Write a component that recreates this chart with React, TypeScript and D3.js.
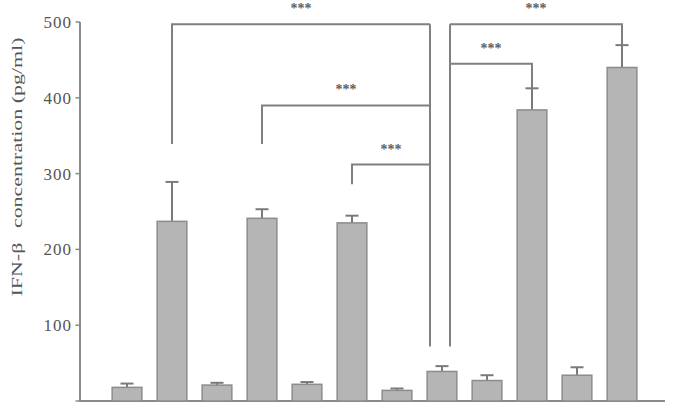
import React from 'react';
import * as d3 from 'd3';

const categories = ['G1', 'G2', 'G3', 'G4', 'G5', 'G6', 'G7', 'G8', 'G9', 'G10', 'G11', 'G12'];
const values = [18, 237, 21, 241, 22, 235, 14, 39, 27, 384, 34, 440];
const errors = [5, 52, 3, 12, 3, 9.5, 2.5, 7, 7, 28.5, 10.5, 29.5];
const yTicks = [0, 100, 200, 300, 400, 500];
const leftBrackets = [
  { from: 1, top: 497, legBottom: 339 },
  { from: 3, top: 390, legBottom: 339 },
  { from: 5, top: 312, legBottom: 286 },
];
const rightBrackets = [
  { to: 11, top: 497, legBottom: 440 },
  { to: 9, top: 445, legBottom: 413 },
];
const hubIndex = 7;
const hubBottom = 72;
const starLabel = '***';

const W = 675;
const H = 403;

export default function App() {
  const x = d3.scaleBand<string>().domain(categories).range([104.5, 644.5]).paddingInner(0.34).paddingOuter(0.17);
  const y = d3.scaleLinear().domain([0, 500]).range([401, 22]);
  const bw = x.bandwidth();
  const cx = (i: number) => (x(categories[i]) as number) + bw / 2;
  const hubL = cx(hubIndex) - 12;
  const hubR = cx(hubIndex) + 8;
  const lineColor = '#808080';
  const textColor = '#555';
  const font = '"Liberation Serif", "Times New Roman", serif';

  return (
    <svg width={W} height={H} style={{ position: 'absolute', left: 0, top: 0, background: '#fff' }}>
      <line x1={80} x2={80} y1={y(500)} y2={y(0) + 1} stroke="#8a8a8a" strokeWidth={2} />
      <line x1={79} x2={665} y1={y(0)} y2={y(0)} stroke="#8a8a8a" strokeWidth={2} />
      {yTicks.map((t) => (
        <g key={t}>
          <line x1={75.5} x2={80} y1={y(t)} y2={y(t)} stroke="#8a8a8a" strokeWidth={1.5} />
          <text
            x={72}
            y={t === 0 ? y(t) + 13 : y(t) + 6}
            textAnchor="end"
            fontFamily={font}
            fontSize={17}
            fill={textColor}
            letterSpacing={1}
          >
            {t}
          </text>
        </g>
      ))}
      <text
        transform={`translate(22,167) rotate(-90)`}
        textAnchor="middle"
        fontFamily={font}
        fontSize={15}
        fill={textColor}
        textLength={259}
        lengthAdjust="spacingAndGlyphs"
      >
        IFN-β<tspan dx={10}>concentration (pg/ml)</tspan>
      </text>

      <g stroke={lineColor} strokeWidth={2} fill="none">
        <line x1={hubL} x2={hubL} y1={y(497)} y2={y(hubBottom)} />
        <line x1={hubR} x2={hubR} y1={y(497)} y2={y(hubBottom)} />
        {leftBrackets.map((b, i) => (
          <path key={'l' + i} d={`M${cx(b.from)},${y(b.legBottom)}V${y(b.top)}H${hubL}`} />
        ))}
        {rightBrackets.map((b, i) => (
          <path key={'r' + i} d={`M${hubR},${y(b.top)}H${cx(b.to)}V${y(b.legBottom)}`} />
        ))}
      </g>
      {leftBrackets.map((b, i) => (
        <text
          key={'ls' + i}
          x={(cx(b.from) + hubL) / 2}
          y={y(b.top) - 11}
          textAnchor="middle"
          fontFamily={font}
          fontSize={14}
          fontWeight="bold"
          fill="#606060"
        >
          {starLabel}
        </text>
      ))}
      {rightBrackets.map((b, i) => (
        <text
          key={'rs' + i}
          x={(cx(b.to) + hubR) / 2}
          y={y(b.top) - 11}
          textAnchor="middle"
          fontFamily={font}
          fontSize={14}
          fontWeight="bold"
          fill="#606060"
        >
          {starLabel}
        </text>
      ))}

      {values.map((v, i) => (
        <g key={i}>
          <line x1={cx(i)} x2={cx(i)} y1={y(v)} y2={y(v + errors[i])} stroke="#7a7a7a" strokeWidth={2} />
          <line x1={cx(i) - 6.5} x2={cx(i) + 6.5} y1={y(v + errors[i])} y2={y(v + errors[i])} stroke="#7a7a7a" strokeWidth={2} />
          <rect
            x={x(categories[i]) as number}
            y={y(v)}
            width={bw}
            height={y(0) - y(v)}
            fill="#b5b5b5"
            stroke="#8c8c8c"
            strokeWidth={1.5}
          />
        </g>
      ))}
    </svg>
  );
}
